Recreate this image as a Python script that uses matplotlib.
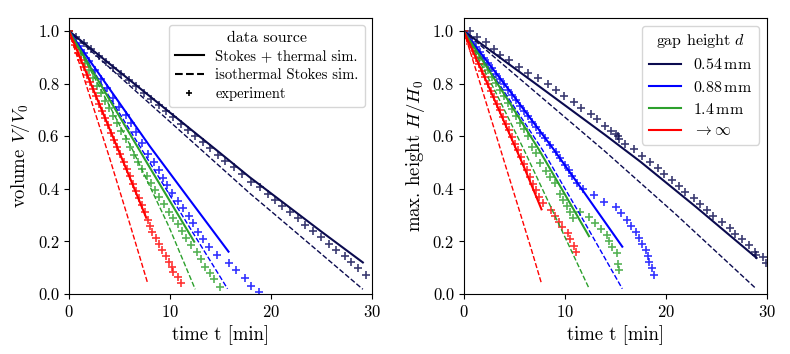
import matplotlib
matplotlib.use("Agg")
import matplotlib.pyplot as plt
from matplotlib.lines import Line2D

plt.rcParams['font.family'] = 'serif'
plt.rcParams['font.serif'] = ['cmr10']
plt.rcParams['mathtext.fontset'] = 'cm'
plt.rcParams['axes.unicode_minus'] = False
plt.rcParams['axes.formatter.use_mathtext'] = True

# gap heights and colours
gap_labels = [r'0.54$\,$mm', r'0.88$\,$mm', r'1.4$\,$mm', r'$\to\infty$']
gap_colors = ['#0b0b4f', '#0000ff', '#2ca02c', '#ff0000']

# ---------- volume V/V0 (left) ----------
vol_t_thermal_054 = [0, 5, 10, 15, 17.9, 20, 25, 29.1]
vol_thermal_054 = [1, 0.845, 0.69, 0.535, 0.444, 0.383, 0.237, 0.12]
vol_t_iso_054 = [0, 5, 10, 15, 17.9, 20, 25, 29.1]
vol_iso_054 = [1, 0.827, 0.655, 0.483, 0.383, 0.315, 0.152, 0.018]
vol_t_exp_054 = [0.0, 0.7, 1.5, 2.2, 3.0, 3.7, 4.4, 5.2, 5.9, 6.6, 7.4, 8.1, 8.9, 9.6,
                 10.3, 11.1, 11.8, 12.5, 13.3, 14.0, 14.8, 15.5, 16.3, 17.1, 18.0,
                 18.9, 19.7, 20.4, 21.1, 21.9, 22.7, 23.4, 24.2, 25.0, 25.7, 26.4,
                 27.3, 27.9, 28.6, 29.4]
vol_exp_054 = [1.0, 0.978, 0.953, 0.93, 0.905, 0.883, 0.86, 0.835, 0.812, 0.79, 0.765,
               0.742, 0.717, 0.695, 0.672, 0.647, 0.625, 0.602, 0.577, 0.555, 0.53,
               0.507, 0.482, 0.456, 0.427, 0.405, 0.38, 0.357, 0.335, 0.31, 0.288,
               0.262, 0.24, 0.215, 0.19, 0.167, 0.145, 0.12, 0.098, 0.072]

vol_t_thermal_088 = [0, 4, 8, 12, 15.8]
vol_thermal_088 = [1, 0.781, 0.562, 0.356, 0.161]
vol_t_iso_088 = [0, 4, 8, 12, 15.7]
vol_iso_088 = [1, 0.75, 0.5, 0.25, 0.02]
vol_t_exp_088 = [0.0, 0.5, 1.0, 1.5, 2.0, 2.6, 3.2, 3.8, 4.4, 5.0, 5.6, 6.1, 6.6, 7.2,
                 7.8, 8.4, 8.9, 9.3, 9.7, 10.2, 10.8, 11.3, 11.9, 12.3, 12.8, 13.3,
                 13.9, 14.7, 15.8, 16.5, 17.4, 18.0, 18.8]
vol_exp_088 = [1.0, 0.972, 0.944, 0.915, 0.886, 0.852, 0.818, 0.783, 0.745, 0.712,
               0.68, 0.65, 0.617, 0.575, 0.532, 0.503, 0.471, 0.443, 0.414, 0.383,
               0.355, 0.326, 0.297, 0.269, 0.237, 0.208, 0.178, 0.148, 0.119, 0.091,
               0.062, 0.03, 0.008]

vol_t_thermal_14 = [0, 4, 8, 12.4]
vol_thermal_14 = [1, 0.74, 0.481, 0.199]
vol_t_iso_14 = [0, 3, 6.3, 9.9, 12.5]
vol_iso_14 = [1, 0.79, 0.548, 0.256, 0.018]
vol_t_exp_14 = [0.0, 0.4, 0.8, 1.2, 1.6, 2.0, 2.4, 2.8, 3.2, 3.6, 4.0, 4.4, 4.8, 5.2,
                5.6, 6.0, 6.45, 6.85, 7.28, 7.7, 8.11, 8.5, 8.94, 9.4, 9.93, 10.35,
                10.76, 11.2, 11.58, 12.1, 12.65, 13.1, 13.5, 13.95, 14.4, 14.96]
vol_exp_14 = [1.0, 0.968, 0.938, 0.908, 0.879, 0.85, 0.821, 0.792, 0.763, 0.735, 0.707,
              0.678, 0.649, 0.62, 0.59, 0.56, 0.529, 0.502, 0.475, 0.448, 0.421, 0.396,
              0.37, 0.342, 0.313, 0.29, 0.266, 0.238, 0.212, 0.187, 0.161, 0.132,
              0.104, 0.08, 0.056, 0.028]

vol_t_thermal_inf = [0, 2, 4, 6, 7.65]
vol_thermal_inf = [1, 0.815, 0.63, 0.445, 0.29]
vol_t_iso_inf = [0, 2, 4, 6, 7.8]
vol_iso_inf = [1, 0.76, 0.52, 0.27, 0.04]
vol_t_exp_inf = [0.0, 0.3, 0.6, 0.9, 1.2, 1.5, 1.8, 2.1, 2.4, 2.7, 3.0, 3.3, 3.6, 3.9,
                 4.2, 4.5, 4.8, 5.1, 5.4, 5.7, 6.0, 6.3, 6.6, 6.9, 7.2, 7.5, 7.78, 8.0,
                 8.27, 8.6, 8.94, 9.2, 9.6, 9.93, 10.2, 10.3, 10.76, 11.1]
vol_exp_inf = [1.0, 0.972, 0.945, 0.917, 0.89, 0.862, 0.834, 0.807, 0.779, 0.752, 0.724,
               0.697, 0.669, 0.641, 0.614, 0.586, 0.558, 0.531, 0.503, 0.476, 0.448,
               0.42, 0.393, 0.365, 0.338, 0.31, 0.281, 0.259, 0.237, 0.212, 0.19,
               0.167, 0.144, 0.123, 0.104, 0.085, 0.066, 0.043]

# ---------- max. height H/H0 (right) ----------
h_t_thermal_054 = [0, 7, 14, 17.5, 23, 29.0]
h_thermal_054 = [1, 0.803, 0.605, 0.503, 0.331, 0.137]
h_t_iso_054 = [0, 7, 14, 21, 28.9]
h_iso_054 = [1, 0.771, 0.542, 0.303, 0.022]
h_t_exp_054 = [0.0, 0.66, 1.3, 2.2, 2.97, 3.6, 4.5, 5.45, 6.4, 7.4, 8.35, 9.1, 9.9, 10.9,
               11.65, 12.6, 13.2, 13.96, 14.6, 15.1, 15.3, 15.4, 16.0, 16.9, 17.7,
               18.45, 19.2, 19.8, 20.6, 21.3, 21.9, 22.8, 23.4, 24.1, 24.7, 25.6,
               26.4, 26.9, 27.6, 28.2, 28.8, 28.9, 29.6, 29.9]
h_exp_054 = [1.0, 1.0, 0.978, 0.957, 0.932, 0.909, 0.89, 0.864, 0.841, 0.82, 0.797,
             0.776, 0.753, 0.729, 0.706, 0.683, 0.664, 0.64, 0.62, 0.61, 0.6, 0.59,
             0.57, 0.55, 0.525, 0.503, 0.478, 0.456, 0.433, 0.412, 0.389, 0.364,
             0.342, 0.319, 0.297, 0.275, 0.25, 0.228, 0.208, 0.186, 0.161, 0.15,
             0.14, 0.119]

h_t_thermal_088 = [0, 5, 8.94, 12, 15.7]
h_thermal_088 = [1, 0.75, 0.548, 0.382, 0.18]
h_t_iso_088 = [0, 4, 7.8, 12, 15.7]
h_iso_088 = [1, 0.77, 0.548, 0.27, 0.02]
h_t_exp_088 = [0.0, 0.4, 0.8, 1.2, 1.6, 2.0, 2.4, 2.8, 3.2, 3.6, 4.0, 4.4, 4.8, 5.2, 5.6,
               6.0, 6.4, 6.8, 7.2, 7.6, 8.0, 8.5, 9.1, 9.5, 10.0, 10.4, 10.76, 11.25,
               11.85, 12.9, 13.9, 15.05, 15.6, 16.2, 16.6, 17.1, 17.36, 17.7, 18.0,
               18.2, 18.35, 18.6, 18.85]
h_exp_088 = [1.0, 0.98, 0.96, 0.94, 0.919, 0.899, 0.879, 0.858, 0.838, 0.818, 0.797,
             0.777, 0.757, 0.736, 0.716, 0.695, 0.675, 0.654, 0.634, 0.613, 0.592,
             0.567, 0.541, 0.516, 0.49, 0.47, 0.449, 0.421, 0.398, 0.376, 0.351,
             0.33, 0.307, 0.281, 0.259, 0.237, 0.212, 0.189, 0.167, 0.144, 0.123,
             0.098, 0.072]

h_t_thermal_14 = [0, 4, 7.46, 10, 12.4]
h_thermal_14 = [1, 0.76, 0.548, 0.38, 0.22]
h_t_iso_14 = [0, 3, 5.97, 9, 12.4]
h_iso_14 = [1, 0.78, 0.548, 0.3, 0.022]
h_t_exp_14 = [0.0, 0.4, 0.8, 1.2, 1.6, 2.0, 2.4, 2.8, 3.2, 3.6, 4.0, 4.4, 4.8, 5.2, 5.6,
              6.0, 6.4, 6.8, 7.13, 7.6, 8.1, 8.5, 9.0, 9.5, 9.87, 10.2, 10.5, 10.86,
              11.5, 12.4, 12.97, 13.56, 14.2, 14.4, 14.7, 15.15, 15.3, 15.4]
h_exp_14 = [1.0, 0.975, 0.95, 0.925, 0.9, 0.876, 0.851, 0.826, 0.801, 0.776, 0.752,
            0.727, 0.702, 0.677, 0.652, 0.626, 0.6, 0.56, 0.535, 0.5, 0.469, 0.445,
            0.423, 0.38, 0.357, 0.335, 0.313, 0.29, 0.313, 0.291, 0.269, 0.246,
            0.224, 0.2, 0.18, 0.157, 0.114, 0.091]

h_t_thermal_inf = [0, 2, 4, 6, 7.7]
h_thermal_inf = [1, 0.83, 0.655, 0.48, 0.322]
h_t_iso_inf = [0, 2, 4, 6.63, 7.7]
h_iso_inf = [1, 0.755, 0.505, 0.178, 0.04]
h_t_exp_inf = [0.0, 0.3, 0.6, 0.9, 1.2, 1.5, 1.8, 2.1, 2.4, 2.7, 3.0, 3.3, 3.6, 3.9, 4.2,
               4.5, 4.8, 5.1, 5.4, 5.7, 6.0, 6.3, 6.6, 6.9, 7.2, 7.5, 7.8, 8.6, 9.0,
               9.44, 9.77, 10.33, 10.53, 10.92, 11.1]
h_exp_inf = [1.0, 0.975, 0.95, 0.924, 0.899, 0.874, 0.849, 0.824, 0.798, 0.773, 0.748,
             0.723, 0.698, 0.672, 0.647, 0.622, 0.597, 0.572, 0.546, 0.521, 0.496,
             0.471, 0.446, 0.42, 0.395, 0.37, 0.345, 0.319, 0.297, 0.275, 0.253,
             0.231, 0.208, 0.183, 0.161]


def draw_panel(ax, thermal, iso, exp, ylabel):
    for (t, y), c in zip(exp, gap_colors):
        ax.plot(t, y, ls='none', marker='+', ms=5.5, mew=1.2, color=c, alpha=0.8)
    for (t, y), c in zip(iso, gap_colors):
        ax.plot(t, y, ls='--', lw=1.0, color=c)
    for (t, y), c in zip(thermal, gap_colors):
        ax.plot(t, y, ls='-', lw=1.5, color=c)
    ax.set_xlim(0, 30)
    ax.set_ylim(0, 1.05)
    ax.set_xticks([0, 10, 20, 30])
    ax.set_yticks([0.0, 0.2, 0.4, 0.6, 0.8, 1.0])
    ax.set_yticklabels(['0.0', '0.2', '0.4', '0.6', '0.8', '1.0'])
    ax.tick_params(labelsize=12)
    ax.set_xlabel('time t [min]', fontsize=13.5)
    ax.set_ylabel(ylabel, fontsize=13.5)


fig = plt.figure(figsize=(7.9, 3.54), dpi=100)
ax1 = fig.add_axes([0.0873, 0.1695, 0.3835, 0.78])
ax2 = fig.add_axes([0.587, 0.1695, 0.3835, 0.78])

draw_panel(ax1,
           [(vol_t_thermal_054, vol_thermal_054), (vol_t_thermal_088, vol_thermal_088),
            (vol_t_thermal_14, vol_thermal_14), (vol_t_thermal_inf, vol_thermal_inf)],
           [(vol_t_iso_054, vol_iso_054), (vol_t_iso_088, vol_iso_088),
            (vol_t_iso_14, vol_iso_14), (vol_t_iso_inf, vol_iso_inf)],
           [(vol_t_exp_054, vol_exp_054), (vol_t_exp_088, vol_exp_088),
            (vol_t_exp_14, vol_exp_14), (vol_t_exp_inf, vol_exp_inf)],
           r'volume $V/V_0$')
draw_panel(ax2,
           [(h_t_thermal_054, h_thermal_054), (h_t_thermal_088, h_thermal_088),
            (h_t_thermal_14, h_thermal_14), (h_t_thermal_inf, h_thermal_inf)],
           [(h_t_iso_054, h_iso_054), (h_t_iso_088, h_iso_088),
            (h_t_iso_14, h_iso_14), (h_t_iso_inf, h_iso_inf)],
           [(h_t_exp_054, h_exp_054), (h_t_exp_088, h_exp_088),
            (h_t_exp_14, h_exp_14), (h_t_exp_inf, h_exp_inf)],
           r'max. height $H/H_0$')

src_handles = [
    Line2D([], [], color='k', ls='-', lw=1.5),
    Line2D([], [], color='k', ls='--', lw=1.5),
    Line2D([], [], color='k', ls='none', marker='+', ms=5, mew=1.2),
]
ax1.legend(src_handles, ['Stokes + thermal sim.', 'isothermal Stokes sim.', 'experiment'],
           title='data source', loc='upper right', fontsize=10.5, title_fontsize=11.5,
           labelspacing=0.35)

gap_handles = [Line2D([], [], color=c, ls='-', lw=1.5) for c in gap_colors]
ax2.legend(gap_handles, gap_labels, title=r'gap height $d$', loc='upper right',
           fontsize=11.5, title_fontsize=11.5, labelspacing=0.45)

fig.savefig('out.png', dpi=100)
